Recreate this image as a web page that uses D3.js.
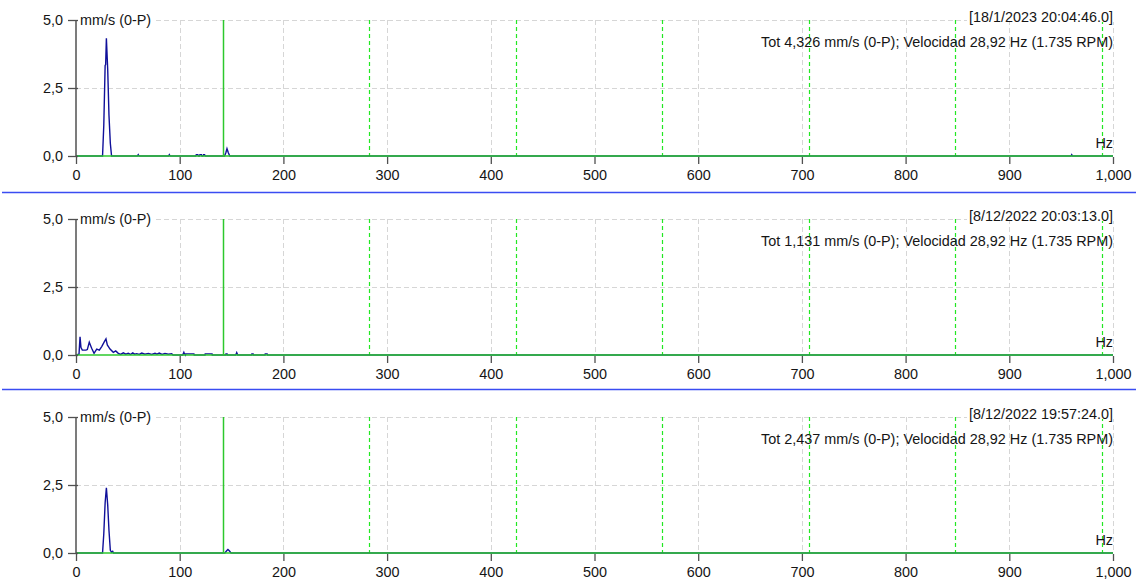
<!DOCTYPE html>
<html>
<head>
<meta charset="utf-8">
<script src="https://cdn.jsdelivr.net/npm/d3@7"></script>
<style>
  html, body { margin: 0; padding: 0; background: #fff; }
  svg { display: block; font-family: "Liberation Sans", Arial, sans-serif; }
</style>
</head>
<body>
<svg id="chart" width="1137" height="584"></svg>
<script>
// ---- data ----
const freqTicks = [0, 100, 200, 300, 400, 500, 600, 700, 800, 900, 1000];
const ampTicks = [0, 2.5, 5];
const ampUnit = "mm/s (0-P)";
const freqUnit = "Hz";

// marker frequency and its harmonics (Hz)
const markerFreq = 141.3;
const harmonicOrders = [2, 3, 4, 5, 6, 7];

const sampleDates = ["[18/1/2023 20:04:46.0]", "[8/12/2022 20:03:13.0]", "[8/12/2022 19:57:24.0]"];
const overallValues = ["4,326", "1,131", "2,437"];
const speedHz = "28,92";
const speedRpm = "1.735";

// spectra: [frequency Hz, amplitude mm/s 0-P]
const spectrum1 = [
  [0, 0], [25.6, 0], [26.8, 1.13], [28.1, 3.33], [28.6, 3.36], [29.3, 4.33], [30.6, 3.15],
  [31.8, 1.5], [33.1, 0.47], [34.3, 0],
  [59.2, 0], [60, 0.05], [60.8, 0],
  [89.2, 0], [90, 0.05], [90.8, 0],
  [115.5, 0], [116, 0.05], [117.5, 0.05], [118, 0], [119, 0], [119.5, 0.05], [121, 0.05],
  [121.5, 0], [122.5, 0], [123, 0.05], [124, 0.05], [124.5, 0],
  [143.2, 0], [144.5, 0.12], [145.6, 0.27], [146.9, 0.12], [148.3, 0],
  [959.5, 0], [960.2, 0.05], [961, 0], [1000, 0]
];

const spectrum2 = [
  [0, 0], [2.9, 0.03], [3.9, 0.67], [4.8, 0.27], [6.1, 0.18], [9.6, 0.18], [10.9, 0.2],
  [12.8, 0.47], [15.1, 0.25], [17.4, 0.06], [20.0, 0.22], [22.5, 0.18], [24.8, 0.31],
  [27.5, 0.5], [28.9, 0.59], [30.2, 0.37], [32.8, 0.22], [36.0, 0.1], [38.3, 0.15],
  [40.8, 0.06], [43, 0.02], [45.6, 0.08], [48, 0.03], [50.4, 0.06], [52.5, 0.02],
  [54.7, 0.08], [56.5, 0.03], [58.5, 0.05], [61, 0.02], [63.4, 0.07], [66.5, 0.03],
  [69.7, 0.06], [73, 0.02], [76.2, 0.06], [78, 0.03], [80.3, 0.07], [83, 0.02],
  [85.8, 0.06], [89, 0.03], [92.3, 0.05], [93.5, 0],
  [102.9, 0], [103.3, 0.04], [104, 0.1], [104.6, 0.04], [105, 0.04], [105.5, 0],
  [106, 0.04], [113.7, 0.04], [114, 0],
  [124.4, 0], [124.6, 0.04], [131.2, 0.04], [131.4, 0],
  [144.4, 0], [144.6, 0.04], [145.7, 0.04], [145.9, 0],
  [154, 0], [154.5, 0.04], [155, 0.09], [155.6, 0.04], [156, 0],
  [169.4, 0], [169.6, 0.04], [170.8, 0.04], [171, 0],
  [182.3, 0], [182.5, 0.04], [184.3, 0.04], [184.5, 0], [1000, 0]
];

const spectrum3 = [
  [0, 0], [25.6, 0], [26.8, 0.71], [28.1, 1.85], [29.3, 2.4], [30.6, 1.75], [31.8, 0.83],
  [33.1, 0.1], [34.3, 0.03], [35.4, 0.06], [36.2, 0],
  [143.5, 0], [145.3, 0.08], [146.5, 0.13], [147.8, 0.08], [149.5, 0], [1000, 0]
];

const spectra = [spectrum1, spectrum2, spectrum3];

// ---- layout ----
const panelTop = [0, 199, 397];
const separatorsY = [192.5, 389.5];
const plotLeft = 76, plotRight = 1113;
const plotTopOff = 20, plotBaseOff = 156;
const FONT = "'Liberation Sans', Arial, sans-serif";
const FONT_SIZE = "14.4px";

const fmtFreq = d3.format(",");
const fmtAmp = d => d3.format(".1f")(d).replace(".", ",");

const svg = d3.select("#chart");
const x = d3.scaleLinear().domain([0, 1000]).range([plotLeft, plotRight]);

const GREEN = "#2cc82c";
const BRIGHT_GREEN = "#22e822";
const GRID = "#d6d6d6";
const AXIS = "#505050";
const LINE = "#10109a";
const TEXT = "#151515";

// white strip behind a label so the grid does not run through it
function maskBehind(g, textSel, yLine) {
  const b = textSel.node().getBBox();
  g.insert("rect", () => textSel.node())
    .attr("x", b.x - 2).attr("y", yLine - 2).attr("width", b.width + 4).attr("height", 4)
    .attr("fill", "#fff");
}

spectra.forEach((data, i) => {
  const oy = panelTop[i];
  const y = d3.scaleLinear().domain([0, 5]).range([oy + plotBaseOff, oy + plotTopOff]);
  const g = svg.append("g");

  // grid: verticals at each frequency tick, horizontals at amplitude ticks
  g.append("g").selectAll("line")
    .data(freqTicks.filter(d => d > 0))
    .join("line")
    .attr("x1", d => Math.round(x(d)) + 0.5).attr("x2", d => Math.round(x(d)) + 0.5)
    .attr("y1", y(5)).attr("y2", y(0))
    .attr("stroke", GRID).attr("stroke-width", 1).attr("stroke-dasharray", "5,3");
  g.append("g").selectAll("line")
    .data(ampTicks.filter(d => d > 0))
    .join("line")
    .attr("x1", x(0)).attr("x2", x(1000))
    .attr("y1", d => Math.round(y(d)) + 0.5).attr("y2", d => Math.round(y(d)) + 0.5)
    .attr("stroke", GRID).attr("stroke-width", 1).attr("stroke-dasharray", "5,3");

  // harmonic markers
  g.append("g").selectAll("line")
    .data(harmonicOrders)
    .join("line")
    .attr("x1", d => Math.round(x(markerFreq * d)) + 0.5)
    .attr("x2", d => Math.round(x(markerFreq * d)) + 0.5)
    .attr("y1", y(5)).attr("y2", y(0))
    .attr("stroke", BRIGHT_GREEN).attr("stroke-width", 1.2).attr("stroke-dasharray", "4,3");

  // spectrum trace
  const line = d3.line().x(d => x(d[0])).y(d => y(d[1]));
  g.append("path")
    .datum(data)
    .attr("d", line)
    .attr("fill", "none")
    .attr("stroke", LINE)
    .attr("stroke-width", 1.4)
    .attr("stroke-linejoin", "miter");

  // marker line and baseline
  g.append("line")
    .attr("x1", Math.round(x(markerFreq)) + 0.5).attr("x2", Math.round(x(markerFreq)) + 0.5)
    .attr("y1", y(5)).attr("y2", y(0))
    .attr("stroke", GREEN).attr("stroke-width", 1.5);
  g.append("line")
    .attr("x1", x(0)).attr("x2", x(1000))
    .attr("y1", y(0)).attr("y2", y(0))
    .attr("stroke", GREEN).attr("stroke-width", 1.5);

  // y axis
  const yAxis = d3.axisLeft(y).tickValues(ampTicks).tickFormat(fmtAmp).tickSize(8).tickPadding(5);
  const ya = g.append("g").attr("transform", `translate(${plotLeft},0)`).call(yAxis);
  ya.select(".domain").attr("stroke", AXIS).attr("stroke-width", 1.5).attr("d", `M0,${y(5)}V${y(0)}`);
  ya.selectAll(".tick line").attr("stroke", AXIS).attr("stroke-width", 1.3).attr("x2", -8).attr("x1", 2);
  ya.selectAll(".tick text").attr("fill", TEXT).style("font-size", FONT_SIZE).style("font-family", FONT);

  // x axis
  const xAxis = d3.axisBottom(x).tickValues(freqTicks).tickFormat(fmtFreq).tickSize(8).tickPadding(6);
  const xa = g.append("g").attr("transform", `translate(0,${y(0)})`).call(xAxis);
  xa.select(".domain").remove();
  xa.selectAll(".tick line").attr("stroke", AXIS).attr("stroke-width", 1.3).attr("y1", 1);
  xa.selectAll(".tick text").attr("fill", TEXT).style("font-size", FONT_SIZE).style("font-family", FONT);

  // unit label at top of y axis
  const unit = g.append("text")
    .attr("x", plotLeft + 4).attr("y", y(5)).attr("dy", "0.35em")
    .attr("fill", TEXT).style("font-size", FONT_SIZE).style("font-family", FONT)
    .text(ampUnit);
  maskBehind(g, unit, y(5));

  // date stamp and summary
  const date = g.append("text")
    .attr("x", plotRight).attr("y", oy + 17).attr("dy", "0.35em")
    .attr("text-anchor", "end").attr("fill", TEXT).style("font-size", FONT_SIZE).style("font-family", FONT)
    .text(sampleDates[i]);
  maskBehind(g, date, y(5));

  g.append("text")
    .attr("x", plotRight).attr("y", oy + 42).attr("dy", "0.35em")
    .attr("text-anchor", "end").attr("fill", TEXT).style("font-size", FONT_SIZE).style("font-family", FONT)
    .text(`Tot ${overallValues[i]} mm/s (0-P); Velocidad ${speedHz} Hz (${speedRpm} RPM)`);

  // frequency unit label
  g.append("text")
    .attr("x", plotRight).attr("y", y(0) - 13).attr("dy", "0.35em")
    .attr("text-anchor", "end").attr("fill", TEXT).style("font-size", FONT_SIZE).style("font-family", FONT)
    .text(freqUnit);
});

// panel separators
svg.append("g").selectAll("line")
  .data(separatorsY)
  .join("line")
  .attr("x1", 2).attr("x2", 1136)
  .attr("y1", d => d).attr("y2", d => d)
  .attr("stroke", "#3a4cf2").attr("stroke-width", 1.5);
</script>
</body>
</html>
